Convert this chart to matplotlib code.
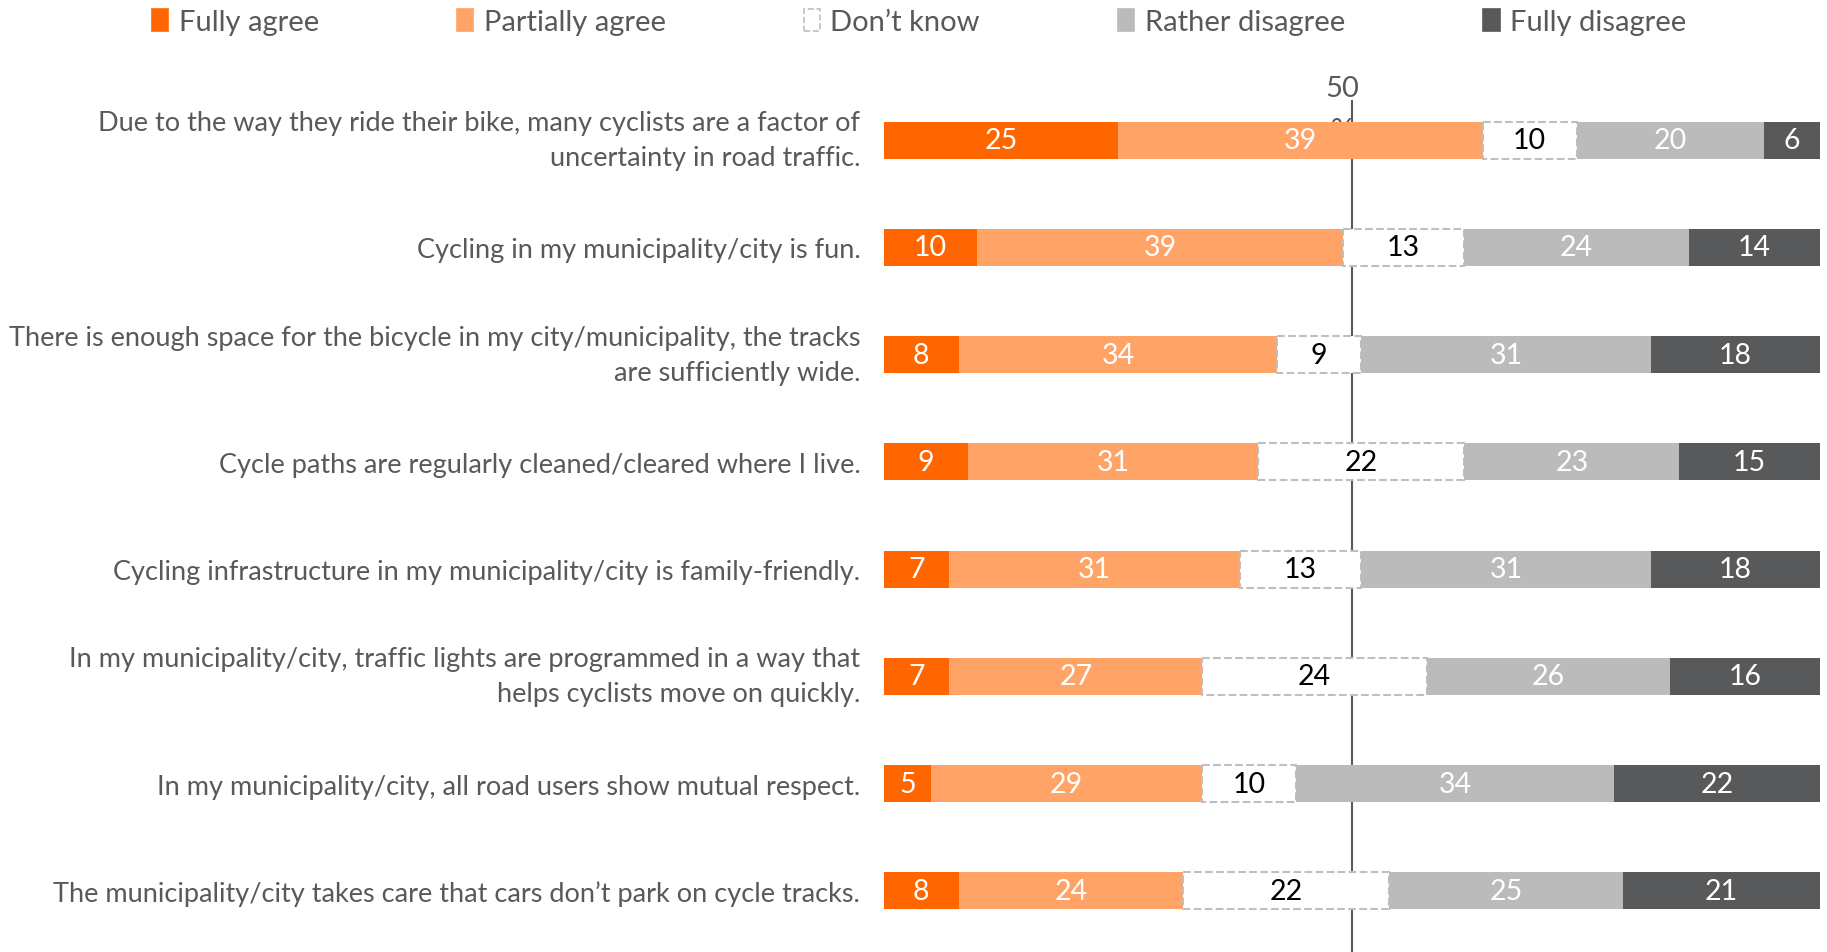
import numpy as np
import matplotlib.pyplot as plt
from matplotlib.patches import Patch

plt.rcParams['font.family'] = ['Lato', 'DejaVu Sans']

statements = [
    "Due to the way they ride their bike, many cyclists are a factor of\nuncertainty in road traffic.",
    "Cycling in my municipality/city is fun.",
    "There is enough space for the bicycle in my city/municipality, the tracks\nare sufficiently wide.",
    "Cycle paths are regularly cleaned/cleared where I live.",
    "Cycling infrastructure in my municipality/city is family-friendly.",
    "In my municipality/city, traffic lights are programmed in a way that\nhelps cyclists move on quickly.",
    "In my municipality/city, all road users show mutual respect.",
    "The municipality/city takes care that cars don\u2019t park on cycle tracks.",
]
answers = ["Fully agree", "Partially agree", "Don\u2019t know", "Rather disagree", "Fully disagree"]

fully_agree = [25, 10, 8, 9, 7, 7, 5, 8]
partially_agree = [39, 39, 34, 31, 31, 27, 29, 24]
dont_know = [10, 13, 9, 22, 13, 24, 10, 22]
rather_disagree = [20, 24, 31, 23, 31, 26, 34, 25]
fully_disagree = [6, 14, 18, 15, 18, 16, 22, 21]

series = [fully_agree, partially_agree, dont_know, rather_disagree, fully_disagree]
colors = ['#FF6600', '#FFA366', '#FFFFFF', '#BBBBBB', '#58595B']
text_colors = ['white', 'white', 'black', 'white', 'white']
grey = '#595959'

fig = plt.figure(figsize=(18.27, 9.53), dpi=100)
ax = fig.add_axes([0.4838, 0.0, 0.5123, 0.894])

y = np.arange(len(statements))
left = np.zeros(len(statements))
for vals, col, tcol, name in zip(series, colors, text_colors, answers):
    vals = np.array(vals, dtype=float)
    if name == "Don\u2019t know":
        bars = ax.barh(y, vals, left=left, height=0.345, color=col,
                       edgecolor='#BFBFBF', linestyle='--', linewidth=1.5, zorder=2)
    else:
        bars = ax.barh(y, vals, left=left, height=0.345, color=col, zorder=2)
    ax.bar_label(bars, labels=[f"{v:.0f}" for v in vals], label_type='center',
                 color=tcol, fontsize=20.5, zorder=3)
    left += vals

# 50 % reference line sits behind the bars; the "%" line is partly covered
ax.axvline(50, color=grey, linewidth=1.5, zorder=1)
ax.text(49.0, -0.29, "50\n%", ha='center', va='center', fontsize=21, color=grey,
        linespacing=1.8, zorder=1, clip_on=False)

ax.set_xlim(0, 100)
ax.set_ylim(7.57, -0.373)
ax.set_yticks(y)
ax.set_yticklabels(statements, fontsize=19.5, color=grey, linespacing=1.5)
for lbl in ax.get_yticklabels():
    if '\n' in lbl.get_text():
        lbl.set_va('center')
ax.tick_params(axis='y', length=0, pad=17)
ax.set_xticks([])
for s in ax.spines.values():
    s.set_visible(False)

handles = [Patch(facecolor=c, edgecolor='#BFBFBF' if c == '#FFFFFF' else c,
                 linestyle='--' if c == '#FFFFFF' else '-', linewidth=1.2)
           for c in colors]
fig.legend(handles, answers, loc='center left', bbox_to_anchor=(0.069, 0.976),
           ncol=5, frameon=False, fontsize=21, labelcolor=grey,
           handlelength=0.55, handleheight=0.8, handletextpad=0.35,
           columnspacing=4.75)

plt.savefig('out.png', dpi=100)
